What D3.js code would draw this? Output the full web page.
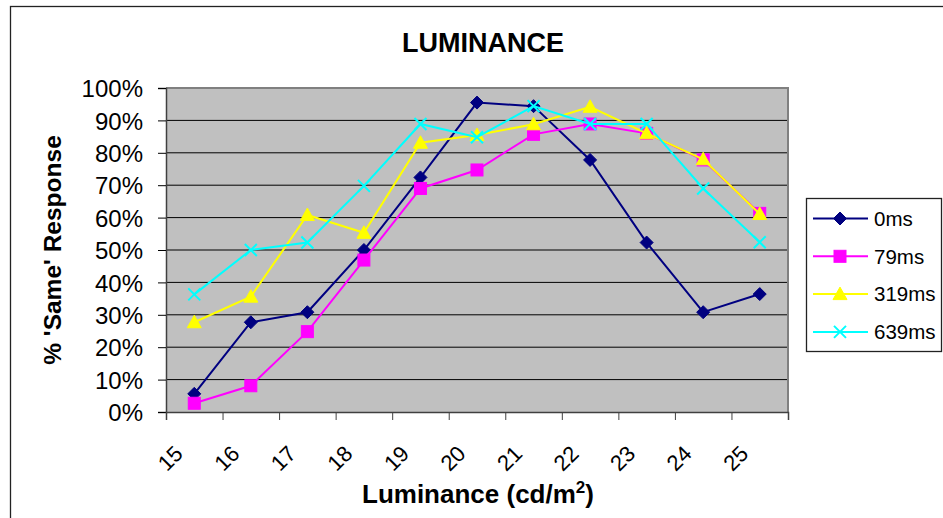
<!DOCTYPE html>
<html>
<head>
<meta charset="utf-8">
<script src="https://cdn.jsdelivr.net/npm/d3@7"></script>
<style>
  html, body { margin: 0; padding: 0; background: #fff; }
  svg { display: block; font-family: "Liberation Sans", Arial, sans-serif; }
</style>
</head>
<body>
<svg id="chart" width="943" height="518"></svg>
<script>
// ---- data ----
const categories = ["15", "16", "17", "18", "19", "20", "21", "22", "23", "24", "25"];
const seriesNames = ["0ms", "79ms", "319ms", "639ms"];
const values0ms   = [5.6, 27.7, 30.8, 50.0, 72.4, 95.5, 94.4, 77.8, 52.3, 30.8, 36.4];
const values79ms  = [2.7, 8.1, 24.8, 46.9, 69.0, 74.7, 85.7, 88.9, 86.0, 77.8, 61.3];
const values319ms = [27.7, 35.6, 60.8, 55.3, 83.1, 85.5, 88.8, 94.2, 86.0, 78.0, 61.1];
const values639ms = [36.3, 50.0, 52.3, 69.8, 88.9, 84.8, 94.4, 88.9, 88.9, 69.0, 52.4];
const yTicks = [0, 10, 20, 30, 40, 50, 60, 70, 80, 90, 100];
const titleText = "LUMINANCE";
const yTitle = "% 'Same' Response";

// ---- styles ----
const seriesValues = [values0ms, values79ms, values319ms, values639ms];
const colors = ["#000080", "#FF00FF", "#FFFF00", "#00FFFF"];
const markers = ["diamond", "square", "triangle", "cross"];

const svg = d3.select("#chart");
const L = 166, R = 788, T = 88, B = 412;

// outer chart border
svg.append("rect").attr("x", 10.5).attr("y", 6.5).attr("width", 1000).attr("height", 1000)
  .attr("fill", "none").attr("stroke", "#222").attr("stroke-width", 1.3);

const x = d3.scaleBand().domain(categories).range([L, R]);
const xc = c => x(c) + x.bandwidth() / 2;
const y = d3.scaleLinear().domain([0, 100]).range([B, T]);

// plot area
svg.append("rect").attr("x", L).attr("y", T).attr("width", R - L).attr("height", B - T)
  .attr("fill", "#C0C0C0");

// gridlines
svg.append("g").selectAll("line").data(yTicks.filter(d => d > 0)).join("line")
  .attr("x1", L).attr("x2", R).attr("y1", d => y(d)).attr("y2", d => y(d))
  .attr("stroke", "#000").attr("stroke-width", 1);

// plot border top/right
svg.append("path").attr("d", `M${L},${T}H${R}V${B}`).attr("fill", "none")
  .attr("stroke", "#808080").attr("stroke-width", 2);

// y axis
const yAxis = d3.axisLeft(y).tickValues(yTicks).tickFormat(d => d + "%").tickSize(8).tickPadding(15);
const gy = svg.append("g").attr("transform", `translate(${L},0)`).call(yAxis);
gy.select(".domain").attr("stroke", "#404040").attr("stroke-width", 1.5);
gy.selectAll(".tick line").attr("stroke", "#000").attr("stroke-width", 1);
gy.selectAll(".tick text").attr("font-size", 24).attr("fill", "#000")
  .attr("font-family", "'Liberation Sans', Arial, sans-serif").attr("dy", "0.36em");

// x axis ticks at category boundaries
const xb = d3.scaleLinear().domain([0, categories.length]).range([L, R]);
const xAxis = d3.axisBottom(xb).tickValues(d3.range(0, categories.length + 1)).tickFormat("").tickSize(8);
const gx = svg.append("g").attr("transform", `translate(0,${B})`).call(xAxis);
gx.select(".domain").attr("stroke", "#404040").attr("stroke-width", 1.5);
gx.selectAll(".tick line").attr("stroke", "#404040").attr("stroke-width", 1);

// x labels rotated
svg.append("g").selectAll("text").data(categories).join("text")
  .attr("transform", d => `translate(${xc(d) - 10},${B + 43}) rotate(-45)`)
  .attr("text-anchor", "end").attr("font-size", 22).attr("fill", "#000")
  .text(d => d);

// title
svg.append("text").attr("x", 483).attr("y", 51.5).attr("text-anchor", "middle")
  .attr("font-size", 27).attr("font-weight", "bold").text(titleText);

// x title with superscript
const xt = svg.append("text").attr("x", 478).attr("y", 502.5).attr("text-anchor", "middle")
  .attr("font-size", 26).attr("font-weight", "bold");
xt.append("tspan").text("Luminance (cd/m");
xt.append("tspan").attr("font-size", 17).attr("dy", -10).text("2");
xt.append("tspan").attr("dy", 10).text(")");

// y title
svg.append("text").attr("transform", `translate(61,250) rotate(-90)`).attr("text-anchor", "middle")
  .attr("font-size", 24.5).attr("font-weight", "bold").text(yTitle);

// marker drawing
function drawMarker(g, type, color, cx, cy) {
  if (type === "diamond") {
    g.append("path").attr("d", `M${cx},${cy - 6.5}L${cx + 6.5},${cy}L${cx},${cy + 6.5}L${cx - 6.5},${cy}Z`)
      .attr("fill", color).attr("stroke", color).attr("stroke-width", 1);
  } else if (type === "square") {
    g.append("rect").attr("x", cx - 6).attr("y", cy - 6).attr("width", 12).attr("height", 12)
      .attr("fill", color).attr("stroke", color).attr("stroke-width", 1);
  } else if (type === "triangle") {
    g.append("path").attr("d", `M${cx},${cy - 7}L${cx + 7},${cy + 5.5}L${cx - 7},${cy + 5.5}Z`)
      .attr("fill", color).attr("stroke", color).attr("stroke-width", 1);
  } else {
    g.append("path").attr("d", `M${cx - 6},${cy - 6}L${cx + 6},${cy + 6}M${cx - 6},${cy + 6}L${cx + 6},${cy - 6}`)
      .attr("fill", "none").attr("stroke", color).attr("stroke-width", 2);
  }
}

// series
const line = d3.line().x((d, i) => xc(categories[i])).y(d => y(d));
seriesValues.forEach((vals, s) => {
  const g = svg.append("g");
  g.append("path").attr("d", line(vals)).attr("fill", "none")
    .attr("stroke", colors[s]).attr("stroke-width", 2);
  vals.forEach((v, i) => drawMarker(g, markers[s], colors[s], xc(categories[i]), y(v)));
});

// legend
const lg = svg.append("g");
lg.append("rect").attr("x", 806.5).attr("y", 198.5).attr("width", 135).attr("height", 153)
  .attr("fill", "#fff").attr("stroke", "#222").attr("stroke-width", 1.3);
seriesNames.forEach((name, s) => {
  const ly = 218.5 + s * 37.8;
  lg.append("line").attr("x1", 813).attr("x2", 868).attr("y1", ly).attr("y2", ly)
    .attr("stroke", colors[s]).attr("stroke-width", 2);
  drawMarker(lg, markers[s], colors[s], 840, ly);
  lg.append("text").attr("x", 874).attr("y", ly).attr("dy", "0.36em")
    .attr("font-size", 20.5).attr("fill", "#000").text(name);
});
</script>
</body>
</html>
